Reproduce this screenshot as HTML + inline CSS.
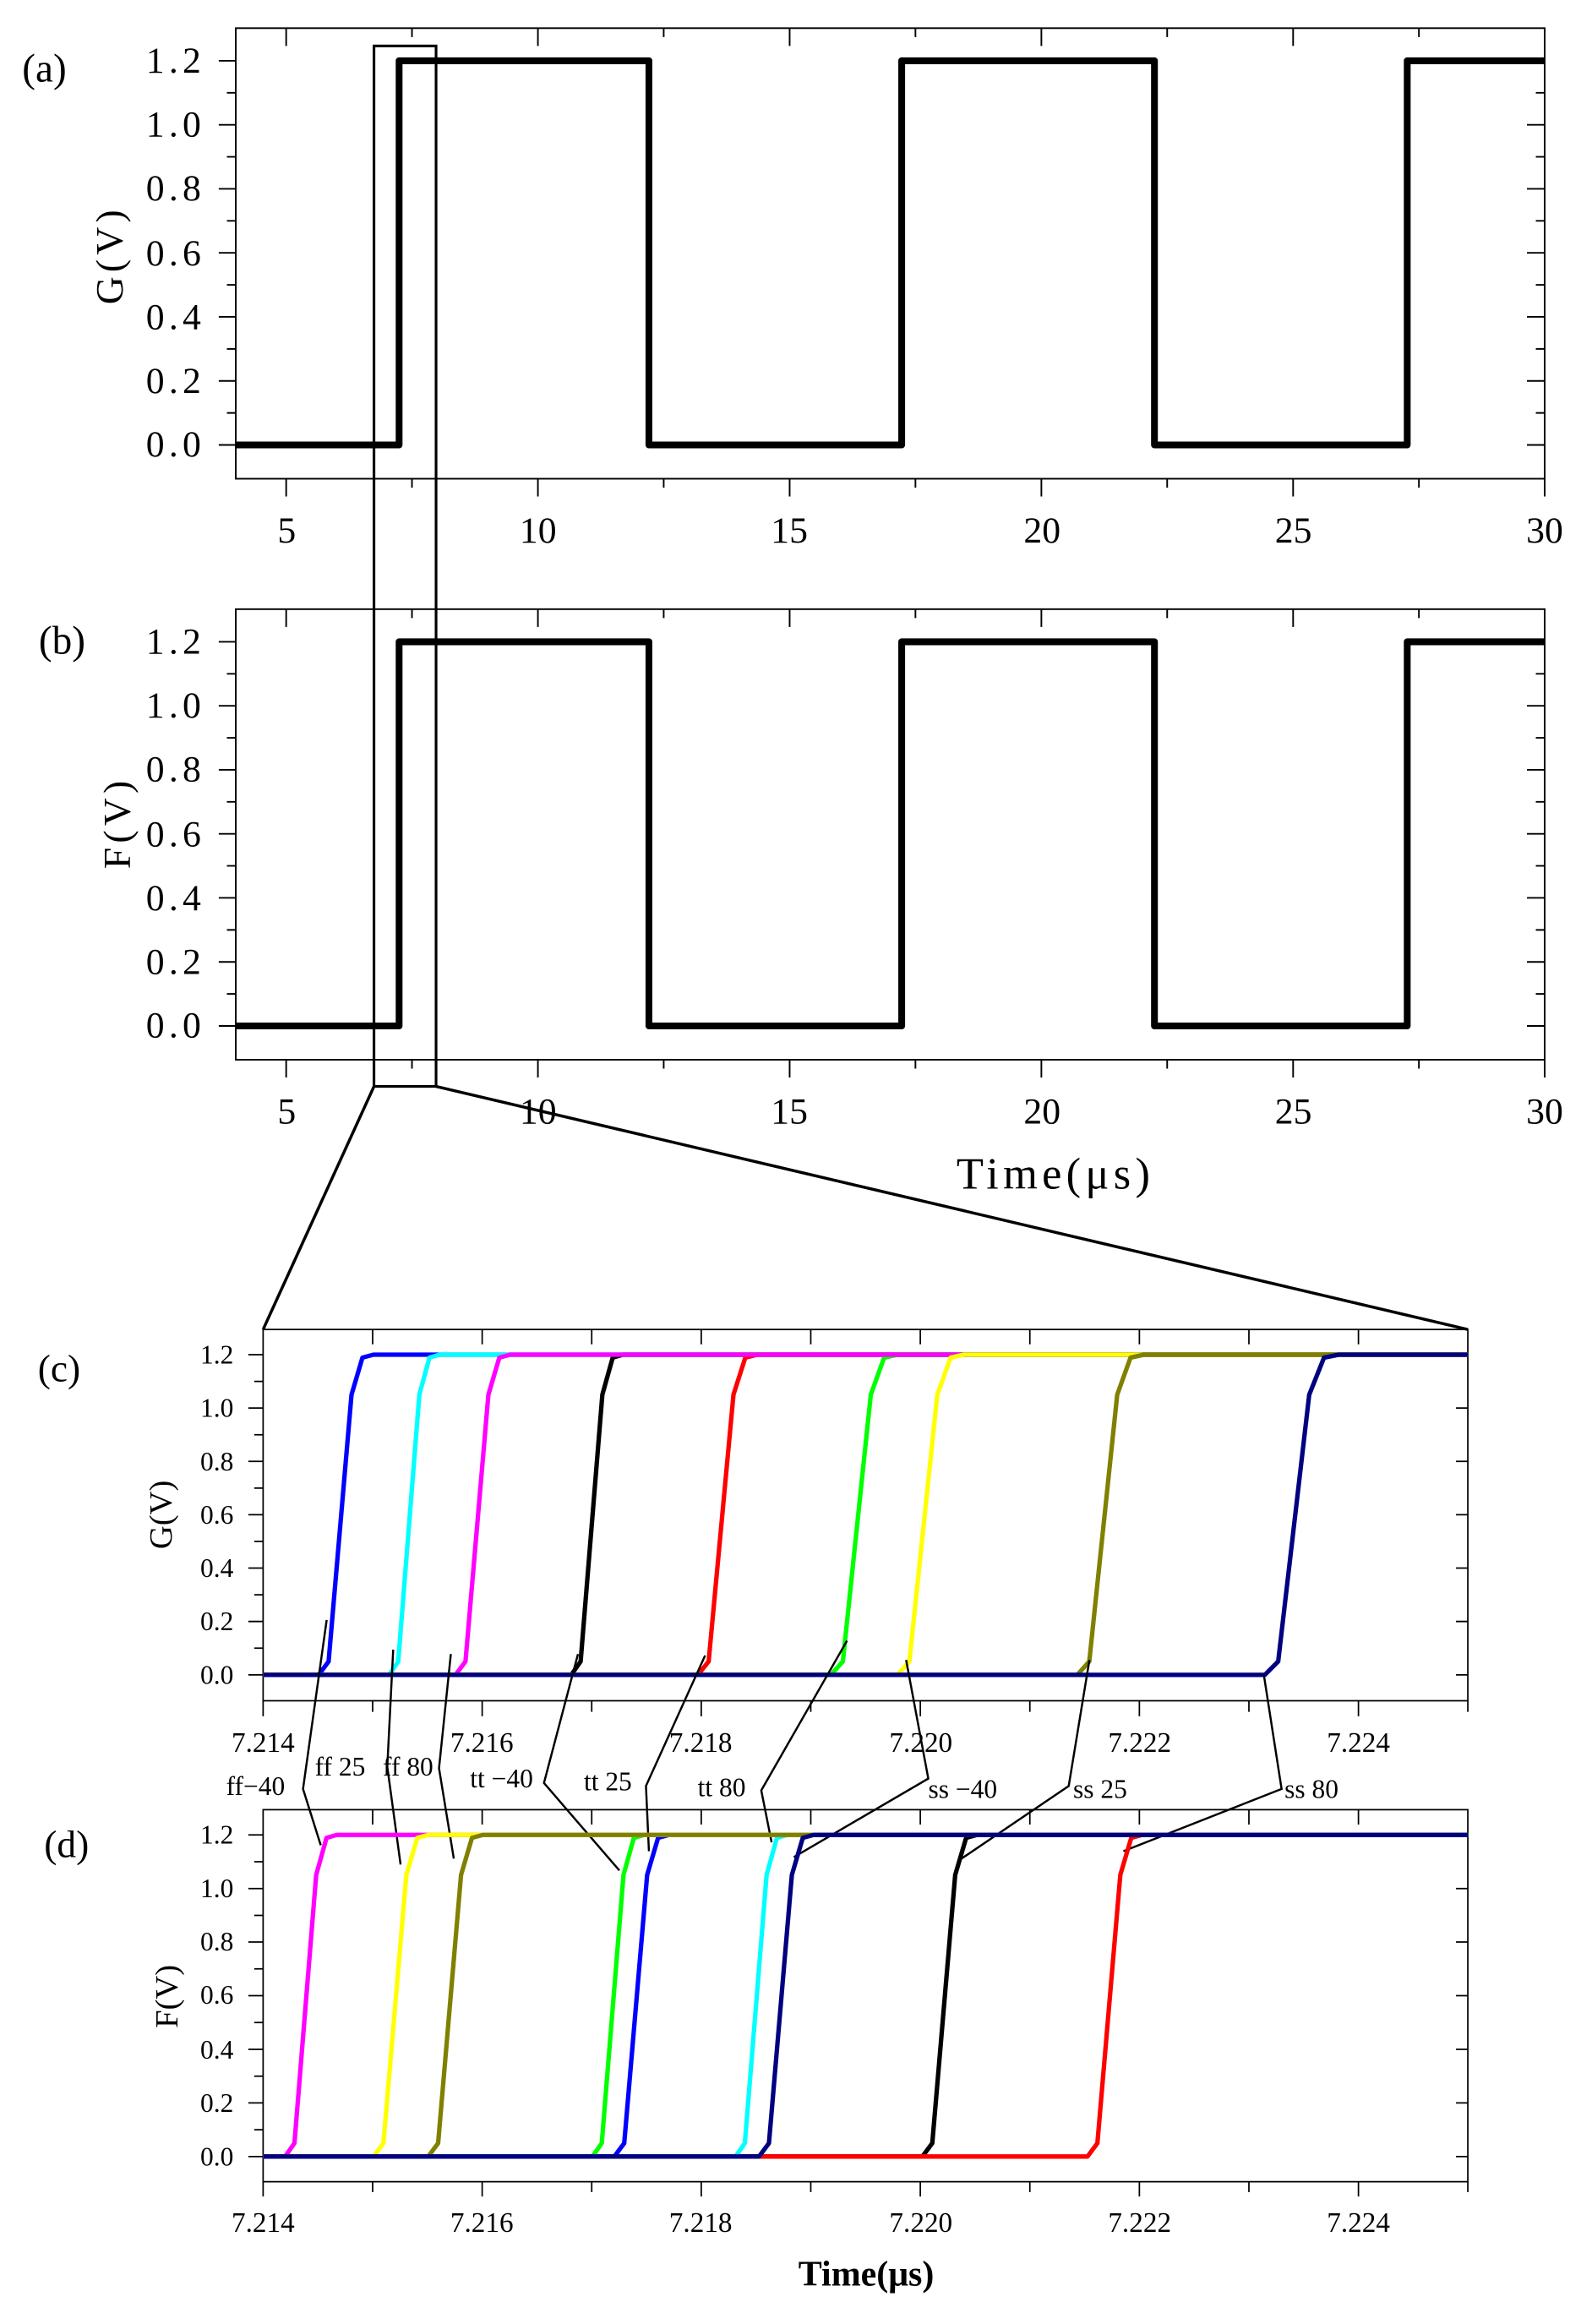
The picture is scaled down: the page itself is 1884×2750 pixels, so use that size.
<!DOCTYPE html>
<html><head><meta charset="utf-8"><style>
html,body{margin:0;padding:0;background:#fff;}
svg{display:block;}
text{font-family:"Liberation Serif","Noto Serif CJK SC",serif;fill:#000;}
</style></head><body>
<svg width="1884" height="2750" viewBox="0 0 1077 1568" preserveAspectRatio="none" xmlns="http://www.w3.org/2000/svg">
<rect width="1077" height="1568" fill="#fff"/>

<!-- ============ PANEL (a) ============ -->
<g stroke="#000" stroke-width="1.1" fill="none">
<rect x="159.5" y="19" width="885.5" height="304"/>
<!-- left major ticks -->
<path d="M148 41H159.5M148 84.2H159.5M148 127.4H159.5M148 170.6H159.5M148 213.8H159.5M148 257H159.5M148 300.2H159.5"/>
<path d="M153.5 62.6H159.5M153.5 105.8H159.5M153.5 149H159.5M153.5 192.2H159.5M153.5 235.4H159.5M153.5 278.6H159.5"/>
<path d="M1033 41H1045M1033 84.2H1045M1033 127.4H1045M1033 170.6H1045M1033 213.8H1045M1033 257H1045M1033 300.2H1045"/>
<path d="M1039 62.6H1045M1039 105.8H1045M1039 149H1045M1039 192.2H1045M1039 235.4H1045M1039 278.6H1045"/>
<!-- top ticks -->
<path d="M193.6 19V31M363.9 19V31M534.2 19V31M704.5 19V31M874.8 19V31"/>
<path d="M278.7 19V25M449 19V25M619.3 19V25M789.6 19V25M959.9 19V25"/>
<!-- bottom ticks -->
<path d="M193.6 323V335M363.9 323V335M534.2 323V335M704.5 323V335M874.8 323V335M1045 323V335"/>
<path d="M278.7 323V329M449 323V329M619.3 323V329M789.6 323V329M959.9 323V329"/>
</g>
<path d="M159.5 300.2H270V41H439V300.2H610V41H781V300.2H952V41H1045" stroke="#000" stroke-width="4.6" fill="none" stroke-linejoin="round"/>
<g font-size="25" text-anchor="end" letter-spacing="3">
<text x="139" y="49">1.2</text><text x="139" y="92">1.0</text><text x="139" y="135">0.8</text><text x="139" y="179">0.6</text><text x="139" y="222">0.4</text><text x="139" y="265">0.2</text><text x="139" y="308">0.0</text>
</g>
<g font-size="25" text-anchor="middle">
<text x="194" y="366">5</text><text x="364" y="366">10</text><text x="534" y="366">15</text><text x="705" y="366">20</text><text x="875" y="366">25</text><text x="1045" y="366">30</text>
</g>
<text x="30" y="55" font-size="27" text-anchor="middle">(a)</text>
<text transform="translate(83,172) rotate(-90)" font-size="26" text-anchor="middle" letter-spacing="3">G(V)</text>

<!-- ============ PANEL (b) ============ -->
<g transform="translate(0,392)">
<g stroke="#000" stroke-width="1.1" fill="none">
<rect x="159.5" y="19" width="885.5" height="304"/>
<path d="M148 41H159.5M148 84.2H159.5M148 127.4H159.5M148 170.6H159.5M148 213.8H159.5M148 257H159.5M148 300.2H159.5"/>
<path d="M153.5 62.6H159.5M153.5 105.8H159.5M153.5 149H159.5M153.5 192.2H159.5M153.5 235.4H159.5M153.5 278.6H159.5"/>
<path d="M1033 41H1045M1033 84.2H1045M1033 127.4H1045M1033 170.6H1045M1033 213.8H1045M1033 257H1045M1033 300.2H1045"/>
<path d="M1039 62.6H1045M1039 105.8H1045M1039 149H1045M1039 192.2H1045M1039 235.4H1045M1039 278.6H1045"/>
<path d="M193.6 19V31M363.9 19V31M534.2 19V31M704.5 19V31M874.8 19V31"/>
<path d="M278.7 19V25M449 19V25M619.3 19V25M789.6 19V25M959.9 19V25"/>
<path d="M193.6 323V335M363.9 323V335M534.2 323V335M704.5 323V335M874.8 323V335M1045 323V335"/>
<path d="M278.7 323V329M449 323V329M619.3 323V329M789.6 323V329M959.9 323V329"/>
</g>
<path d="M159.5 300.2H270V41H439V300.2H610V41H781V300.2H952V41H1045" stroke="#000" stroke-width="4.6" fill="none" stroke-linejoin="round"/>
<g font-size="25" text-anchor="end" letter-spacing="3">
<text x="139" y="49">1.2</text><text x="139" y="92">1.0</text><text x="139" y="135">0.8</text><text x="139" y="179">0.6</text><text x="139" y="222">0.4</text><text x="139" y="265">0.2</text><text x="139" y="308">0.0</text>
</g>
<g font-size="25" text-anchor="middle">
<text x="194" y="366">5</text><text x="364" y="366">10</text><text x="534" y="366">15</text><text x="705" y="366">20</text><text x="875" y="366">25</text><text x="1045" y="366">30</text>
</g>
<text x="42" y="49" font-size="27" text-anchor="middle">(b)</text>
<text transform="translate(88,163) rotate(-90)" font-size="26" text-anchor="middle" letter-spacing="3">F(V)</text>
</g>
<text x="714" y="802" font-size="30" text-anchor="middle" letter-spacing="3">Time(μs)</text>

<!-- zoom box and projection lines -->
<g stroke="#000" fill="none">
<rect x="253" y="31" width="42" height="702" stroke-width="1.8"/>
<path d="M253 733L178 897M295 733L993 897" stroke-width="2"/>
</g>

<!-- ============ PANEL (c) ============ -->
<g stroke="#000" stroke-width="1" fill="none">
<rect x="178" y="897" width="815" height="250.5"/>
<path d="M168 914H178M168 950H178M168 986H178M168 1022H178M168 1058H178M168 1094H178M168 1130H178"/>
<path d="M172 932H178M172 968H178M172 1004H178M172 1040H178M172 1076H178M172 1112H178"/>
<path d="M985 914H993M985 950H993M985 986H993M985 1022H993M985 1058H993M985 1094H993M985 1130H993"/>
<path d="M252.1 897V907M326.2 897V907M400.3 897V907M474.4 897V907M548.5 897V907M622.6 897V907M696.7 897V907M770.8 897V907M844.9 897V907M919 897V907"/>
<path d="M178 1147.5V1158M252.1 1147.5V1155M326.2 1147.5V1158M400.3 1147.5V1155M474.4 1147.5V1158M548.5 1147.5V1155M622.6 1147.5V1158M696.7 1147.5V1155M770.8 1147.5V1158M844.9 1147.5V1155M919 1147.5V1158M993 1147.5V1155"/>
</g>
<g fill="none" stroke-width="3" stroke-linejoin="round">
<path stroke="#0000ff" d="M178 1130H215.6L222.3 1121L237.8 941L245.2 916L252.6 914H993"/>
<path stroke="#00ffff" d="M178 1130H263.3L269.4 1121L283.7 941L290.5 916L297.3 914H993"/>
<path stroke="#000000" d="M178 1130H386.5L392.8 1121L407.5 941L414.5 916L421.5 914H993"/>
<path stroke="#ff0000" d="M178 1130H472.2L479.4 1121L496.2 941L504.2 916L512.2 914H993"/>
<path stroke="#00ff00" d="M178 1130H562.1L570.2 1121L589.1 941L598.1 916L607.1 914H993"/>
<path stroke="#ff00ff" d="M178 1130H308.2L314.9 1121L330.4 941L337.8 916L345.2 914H993"/>
<path stroke="#ffff00" d="M178 1130H607.1L615.2 1121L634.1 941L643.1 916L652.1 914H993"/>
<path stroke="#808000" d="M178 1130H728.8L736.9 1121L755.8 941L764.8 916L773.8 914H993"/>
<path stroke="#000080" d="M178 1130H855.7L864.7 1121L885.7 941L895.7 916L905.7 914H993"/>
</g>
<g font-size="18" text-anchor="end">
<text x="158" y="920">1.2</text><text x="158" y="956">1.0</text><text x="158" y="992">0.8</text><text x="158" y="1028">0.6</text><text x="158" y="1064">0.4</text><text x="158" y="1100">0.2</text><text x="158" y="1136">0.0</text>
</g>
<g font-size="19" text-anchor="middle">
<text x="178" y="1182">7.214</text><text x="326" y="1182">7.216</text><text x="474" y="1182">7.218</text><text x="623" y="1182">7.220</text><text x="771" y="1182">7.222</text><text x="919" y="1182">7.224</text>
</g>
<text x="40" y="932" font-size="26" text-anchor="middle">(c)</text>
<text transform="translate(116,1022) rotate(-90)" font-size="22" text-anchor="middle">G(V)</text>

<!-- labels between c and d -->
<g font-size="18">
<text x="153" y="1211">ff−40</text>
<text x="213" y="1198">ff 25</text>
<text x="259" y="1198">ff 80</text>
<text x="318" y="1206">tt −40</text>
<text x="395" y="1208">tt 25</text>
<text x="472" y="1212">tt 80</text>
<text x="628" y="1213">ss −40</text>
<text x="726" y="1213">ss 25</text>
<text x="869" y="1213">ss 80</text>
</g>
<g stroke="#000" stroke-width="1.4" fill="none">
<path d="M221 1093L205 1207L217 1245"/>
<path d="M266 1113L262 1192L271 1258"/>
<path d="M305 1116L297 1193L307 1254"/>
<path d="M391 1116L368 1203L419 1262"/>
<path d="M477 1117L437 1205L439 1249"/>
<path d="M573 1107L515 1208L522 1243"/>
<path d="M613 1120L628 1200L537 1253"/>
<path d="M737 1120L723 1205L649 1255"/>
<path d="M855 1130L867 1207L760 1249"/>
</g>

<!-- ============ PANEL (d) ============ -->
<g stroke="#000" stroke-width="1" fill="none">
<rect x="178" y="1221" width="815" height="251"/>
<path d="M168 1238H178M168 1274.2H178M168 1310.3H178M168 1346.5H178M168 1382.7H178M168 1418.8H178M168 1455H178"/>
<path d="M172 1256.1H178M172 1292.3H178M172 1328.4H178M172 1364.6H178M172 1400.8H178M172 1436.9H178"/>
<path d="M985 1238H993M985 1274.2H993M985 1310.3H993M985 1346.5H993M985 1382.7H993M985 1418.8H993M985 1455H993"/>
<path d="M252.1 1221V1231M326.2 1221V1231M400.3 1221V1231M474.4 1221V1231M548.5 1221V1231M622.6 1221V1231M696.7 1221V1231M770.8 1221V1231M844.9 1221V1231M919 1221V1231"/>
<path d="M178 1472V1482M252.1 1472V1479M326.2 1472V1482M400.3 1472V1479M474.4 1472V1482M548.5 1472V1479M622.6 1472V1482M696.7 1472V1479M770.8 1472V1482M844.9 1472V1479M919 1472V1482M993 1472V1479"/>
</g>
<g fill="none" stroke-width="3" stroke-linejoin="round">
<path stroke="#000000" d="M178 1455H624L630.7 1446L646.2 1265L653.6 1240L661 1238H993"/>
<path stroke="#ff0000" d="M178 1455H735.7L742.4 1446L757.9 1265L765.3 1240L772.7 1238H993"/>
<path stroke="#00ffff" d="M178 1455H497.6L503.9 1446L518.6 1265L525.6 1240L532.6 1238H993"/>
<path stroke="#0000ff" d="M178 1455H415.6L422.3 1446L437.8 1265L445.2 1240L452.6 1238H993"/>
<path stroke="#00ff00" d="M178 1455H400.8L407.1 1446L421.8 1265L428.8 1240L435.8 1238H993"/>
<path stroke="#ff00ff" d="M178 1455H192.9L199.2 1446L213.9 1265L220.9 1240L227.9 1238H993"/>
<path stroke="#ffff00" d="M178 1455H252.7L259.4 1446L274.9 1265L282.3 1240L289.7 1238H993"/>
<path stroke="#808000" d="M178 1455H289.7L296.4 1446L311.9 1265L319.3 1240L326.7 1238H993"/>
<path stroke="#000080" d="M178 1455H513.5L520.2 1446L535.7 1265L543.1 1240L550.5 1238H993"/>
</g>
<g font-size="18" text-anchor="end">
<text x="158" y="1244">1.2</text><text x="158" y="1280">1.0</text><text x="158" y="1316">0.8</text><text x="158" y="1352">0.6</text><text x="158" y="1389">0.4</text><text x="158" y="1425">0.2</text><text x="158" y="1461">0.0</text>
</g>
<g font-size="19" text-anchor="middle">
<text x="178" y="1506">7.214</text><text x="326" y="1506">7.216</text><text x="474" y="1506">7.218</text><text x="623" y="1506">7.220</text><text x="771" y="1506">7.222</text><text x="919" y="1506">7.224</text>
</g>
<text x="45" y="1253" font-size="26" text-anchor="middle">(d)</text>
<text transform="translate(120,1347) rotate(-90)" font-size="22" text-anchor="middle">F(V)</text>
<text x="586" y="1542" font-size="24" font-weight="bold" text-anchor="middle">Time(μs)</text>
</svg>
</body></html>
